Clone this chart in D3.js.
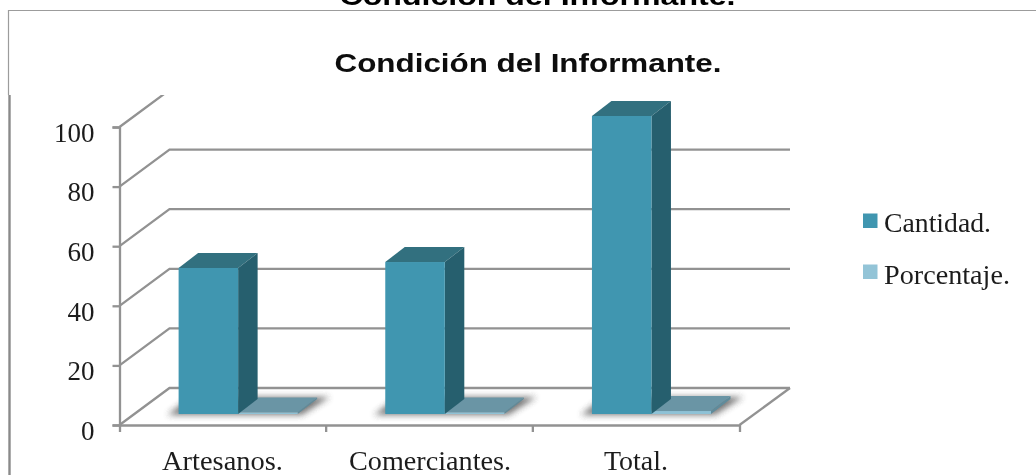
<!DOCTYPE html>
<html><head><meta charset="utf-8">
<script src="https://cdn.jsdelivr.net/npm/d3@7/dist/d3.min.js"></script>
<style>html,body{margin:0;padding:0;background:#fff;overflow:hidden}svg{display:block}</style>
</head><body><svg id="c" width="1036" height="475"></svg>
<script>
const categories = ["Artesanos.", "Comerciantes.", "Total."];
const seriesNames = ["Cantidad.", "Porcentaje."];
const cantidad = [49, 51, 100];
const porcentaje = [0.49, 0.51, 1];
const yTicks = [0, 20, 40, 60, 80, 100];
const titleText = "Condición del Informante.";

const svg = d3.select("#c");
const defs = svg.append("defs");
defs.append("filter").attr("id","soft").attr("x","-5%").attr("y","-5%").attr("width","110%").attr("height","110%")
  .append("feGaussianBlur").attr("stdDeviation",0.45);
defs.append("filter").attr("id","shadow").attr("x","-20%").attr("y","-60%").attr("width","140%").attr("height","220%")
  .append("feGaussianBlur").attr("stdDeviation",3.2);
defs.append("clipPath").attr("id","wallClip").append("rect").attr("x",0).attr("y",95).attr("width",1036).attr("height",380);

const root = svg.append("g").attr("filter","url(#soft)");
const GRID = "#929292", TEXT = "#1c1c1c";
const SERIF = "'Liberation Serif', serif", SANS = "'Liberation Sans', Arial, sans-serif";

const x = d3.scaleBand().domain(categories).range([119.5, 739.5]);
const y = d3.scaleLinear().domain([0, 100]).range([425, 127]);
const wallDx = 50, wallDy = -37;
const barDx = 19.5, barDy = -15, floorLift = 11;
const barW = x.bandwidth() * 0.288;
const barGap = x.bandwidth() * 0.286;
const yBar = v => y(v) - floorLift;

// frame
root.append("path").attr("d","M8.5,95V10.5H1036").attr("fill","none").attr("stroke","#9c9c9c").attr("stroke-width",1.2);
root.append("path").attr("d","M9.5,95V475").attr("fill","none").attr("stroke","#8a8a8a").attr("stroke-width",2.4);

// titles
root.append("text").attr("x",537.5).attr("y",4.5).attr("text-anchor","middle")
  .attr("font-family",SANS).attr("font-weight","bold").attr("font-size",25)
  .attr("textLength",396).attr("lengthAdjust","spacingAndGlyphs").attr("fill","#000").text(titleText);
root.append("text").attr("x",528).attr("y",72).attr("text-anchor","middle")
  .attr("font-family",SANS).attr("font-weight","bold").attr("font-size",25)
  .attr("textLength",387).attr("lengthAdjust","spacingAndGlyphs").attr("fill","#0a0a0a").text(titleText);

// walls and gridlines
const wall = root.append("g").attr("clip-path","url(#wallClip)");
wall.selectAll("path.grid").data(yTicks).join("path").attr("class","grid")
  .attr("d", t => d3.line()([[x.range()[0], y(t)], [x.range()[0]+wallDx, y(t)+wallDy], [x.range()[1]+wallDx+0.5, y(t)+wallDy]]))
  .attr("fill","none").attr("stroke",GRID).attr("stroke-width",2.3);
root.append("path")
  .attr("d", d3.line()([[x.range()[1], y(0)], [x.range()[1]+wallDx+0.5, y(0)+wallDy]]))
  .attr("fill","none").attr("stroke",GRID).attr("stroke-width",2.3);

// axes
const yAxis = d3.axisLeft(y).tickValues(yTicks).tickSize(7).tickPadding(18).tickFormat(d3.format("d"));
const xAxis = d3.axisBottom(x).tickSize(7).tickSizeOuter(7).tickPadding(0).tickFormat(()=>"");
const gy = root.append("g").attr("transform","translate(119.5,0)").call(yAxis);
const gx = root.append("g").attr("transform","translate(0,425)").call(xAxis);
gx.selectAll(".tick").remove();
x.domain().forEach((c,i)=>{
  const px = x.range()[0] + i * x.step();
  if (i>0) gx.append("line").attr("x1",px).attr("x2",px).attr("y1",0).attr("y2",7);
});
[gx,gy].forEach(g=>{
  g.selectAll("path.domain,line").attr("stroke",GRID).attr("stroke-width",2.3);
});
gy.selectAll("text").attr("font-family",SERIF).attr("font-size",27).attr("fill",TEXT).attr("dy","0.53em");

// category labels
const labelWidths = [121, 162, 64];
const labelCentres = [222.5, 430, 636];
root.selectAll("text.cat").data(categories).join("text").attr("class","cat")
  .attr("x",(d,i)=>labelCentres[i]).attr("y",470).attr("text-anchor","middle")
  .attr("font-family",SERIF).attr("font-size",27).attr("fill",TEXT)
  .attr("textLength",(d,i)=>labelWidths[i]).attr("lengthAdjust","spacingAndGlyphs").text(d=>d);

// shadows
const bars = root.append("g");
categories.forEach((c,i)=>{
  const x0 = x(c) + barGap;
  bars.append("path")
    .attr("d", d3.line()([[x0-11,yBar(0)+1],[x0+barW*2+4,yBar(0)+1],[x0+barW*2+32,yBar(0)+barDy-2],[x0+12,yBar(0)+barDy-2]])+"Z")
    .attr("fill","#444").attr("opacity",0.72).attr("filter","url(#shadow)");
});

// bars
function box(g, x0, w, v, front, side, top){
  const yt = yBar(v), yb = yBar(0);
  g.append("path").attr("d",d3.line()([[x0,yt],[x0+w,yt],[x0+w+barDx,yt+barDy],[x0+barDx,yt+barDy]])+"Z").attr("fill",top);
  g.append("path").attr("d",d3.line()([[x0+w,yt],[x0+w+barDx,yt+barDy],[x0+w+barDx,yb+barDy],[x0+w,yb]])+"Z").attr("fill",side);
  g.append("rect").attr("x",x0).attr("y",yt).attr("width",w).attr("height",yb-yt).attr("fill",front);
}
categories.forEach((c,i)=>{
  const x0 = x(c) + barGap;
  box(bars, x0+barW, barW, porcentaje[i], "#8fc2d6", "#5f8b9b", "#6a95a5");
  box(bars, x0, barW, cantidad[i], "#4096b0", "#285f6e", "#31707f");
});

// legend
const legendColors = ["#4096b0", "#93c4d7"];
const legendY = [221, 272];
const legendBase = [232, 284];
const legendWidths = [107, 126];
const lg = root.selectAll("g.lg").data(seriesNames).join("g").attr("class","lg");
lg.append("rect").attr("x",863).attr("y",(d,i)=>legendY[i]-7.5).attr("width",14.5).attr("height",14.5).attr("fill",(d,i)=>legendColors[i]);
lg.append("text").attr("x",884).attr("y",(d,i)=>legendBase[i]).attr("font-family",SERIF).attr("font-size",27).attr("fill",TEXT)
  .attr("textLength",(d,i)=>legendWidths[i]).attr("lengthAdjust","spacingAndGlyphs").text(d=>d);
</script></body></html>
